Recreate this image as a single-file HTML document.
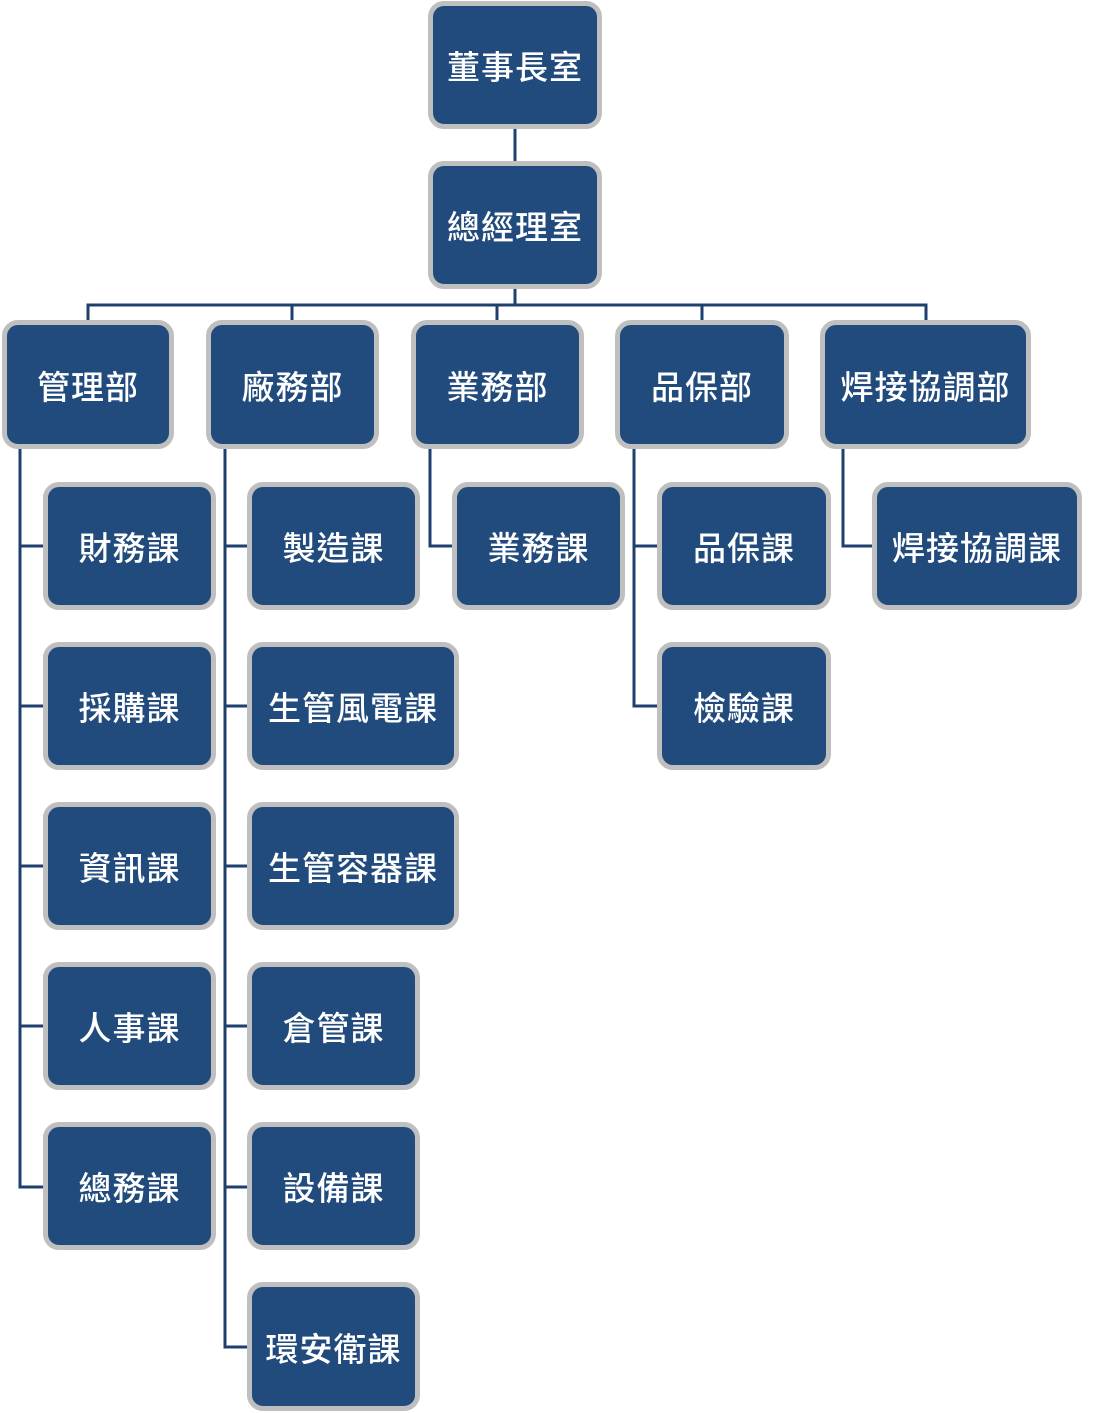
<!DOCTYPE html>
<html><head><meta charset="utf-8"><style>
body{margin:0;width:1096px;height:1413px;background:#fff;position:relative;overflow:hidden;font-family:"Liberation Sans","Noto Sans CJK TC",sans-serif}
.b{position:absolute;box-sizing:border-box;background:#214a7d;border:5px solid #bfbfbf;border-radius:16px;color:#fff;font-size:33px;font-weight:500;display:flex;align-items:center;justify-content:center;white-space:nowrap;letter-spacing:1px}
svg{position:absolute;left:0;top:0}
</style></head><body>
<svg width="1096" height="1413"><g stroke="#1f3f6e" stroke-width="3" fill="none">
<line x1="515" y1="129" x2="515" y2="161"/>
<line x1="515" y1="289" x2="515" y2="305"/>
<polyline points="88,322 88,305 926,305 926,322"/>
<line x1="292" y1="305" x2="292" y2="322"/>
<line x1="497" y1="305" x2="497" y2="322"/>
<line x1="702" y1="305" x2="702" y2="322"/>
<polyline points="20,449 20,1187 45,1187"/>
<line x1="20" y1="546" x2="45" y2="546"/><line x1="20" y1="706" x2="45" y2="706"/><line x1="20" y1="866" x2="45" y2="866"/><line x1="20" y1="1026" x2="45" y2="1026"/>
<polyline points="225,449 225,1347 250,1347"/>
<line x1="225" y1="546" x2="250" y2="546"/><line x1="225" y1="706" x2="250" y2="706"/><line x1="225" y1="866" x2="250" y2="866"/><line x1="225" y1="1026" x2="250" y2="1026"/><line x1="225" y1="1187" x2="250" y2="1187"/>
<polyline points="430,449 430,546 455,546"/>
<polyline points="634,449 634,706 660,706"/><line x1="634" y1="546" x2="660" y2="546"/>
<polyline points="843,449 843,546 874,546"/>
</g></svg>
<div class="b" style="left:428px;top:1px;width:174px;height:128px">董事長室</div>
<div class="b" style="left:428px;top:161px;width:174px;height:128px">總經理室</div>
<div class="b" style="left:2px;top:320px;width:172px;height:129px">管理部</div>
<div class="b" style="left:206px;top:320px;width:173px;height:129px">廠務部</div>
<div class="b" style="left:411px;top:320px;width:173px;height:129px">業務部</div>
<div class="b" style="left:615px;top:320px;width:174px;height:129px">品保部</div>
<div class="b" style="left:820px;top:320px;width:211px;height:129px">焊接協調部</div>
<div class="b" style="left:43px;top:482px;width:173px;height:128px">財務課</div>
<div class="b" style="left:43px;top:642px;width:173px;height:128px">採購課</div>
<div class="b" style="left:43px;top:802px;width:173px;height:128px">資訊課</div>
<div class="b" style="left:43px;top:962px;width:173px;height:128px">人事課</div>
<div class="b" style="left:43px;top:1122px;width:173px;height:128px">總務課</div>
<div class="b" style="left:247px;top:482px;width:173px;height:128px">製造課</div>
<div class="b" style="left:247px;top:642px;width:212px;height:128px">生管風電課</div>
<div class="b" style="left:247px;top:802px;width:212px;height:128px">生管容器課</div>
<div class="b" style="left:247px;top:962px;width:173px;height:128px">倉管課</div>
<div class="b" style="left:247px;top:1122px;width:173px;height:128px">設備課</div>
<div class="b" style="left:247px;top:1282px;width:173px;height:129px">環安衛課</div>
<div class="b" style="left:452px;top:482px;width:173px;height:128px">業務課</div>
<div class="b" style="left:657px;top:482px;width:174px;height:128px">品保課</div>
<div class="b" style="left:657px;top:642px;width:174px;height:128px">檢驗課</div>
<div class="b" style="left:872px;top:482px;width:210px;height:128px">焊接協調課</div>
</body></html>
